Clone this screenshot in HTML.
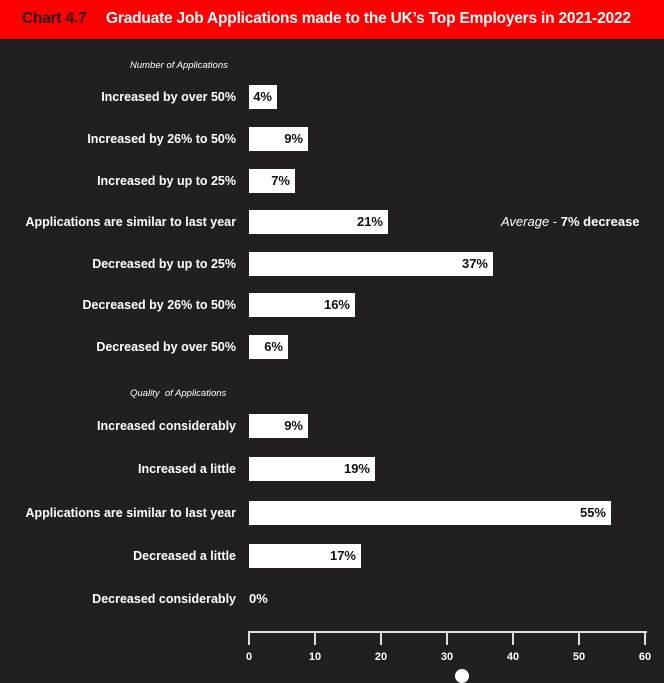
<!DOCTYPE html>
<html><head><style>
body{margin:0;width:664px;height:672px;background:#231f20;position:relative;overflow:hidden;font-family:"Liberation Sans",sans-serif;}
.t{position:absolute;left:0;top:0;width:664px;height:39px;background:#ff0000;}
.t span{position:absolute;top:10px;font-size:15.5px;font-weight:bold;white-space:nowrap;letter-spacing:-0.2px}
.l{position:absolute;right:428px;color:#fff;font-size:12.5px;font-weight:bold;white-space:nowrap;transform:translateY(-50%)}
.b{position:absolute;left:249px;height:24px;background:#fff;transform:translateY(-50%);}
.b span{position:absolute;right:5px;top:4px;font-size:13px;font-weight:bold;color:#111}
.h{position:absolute;font-size:9.5px;font-style:italic;color:#fff;left:130px}
.tk{position:absolute;top:632px;width:2px;height:13px;background:#ddd}
.n{position:absolute;top:651px;color:#fff;font-size:11px;font-weight:bold;transform:translateX(-50%)}
</style></head><body>
<div class="t"><span style="left:22px;color:#231f20">Chart 4.7</span><span style="left:106px;color:#fff">Graduate Job Applications made to the UK’s Top Employers in 2021-2022</span></div>
<div class="h" style="top:60px">Number of Applications</div>
<div class="h" style="top:388px">Quality&nbsp; of Applications</div>

<div class="l" style="top:97px">Increased by over 50%</div><div class="b" style="top:97px;width:28px"><span>4%</span></div>
<div class="l" style="top:139px">Increased by 26% to 50%</div><div class="b" style="top:139px;width:59px"><span>9%</span></div>
<div class="l" style="top:181px">Increased by up to 25%</div><div class="b" style="top:181px;width:46px"><span>7%</span></div>
<div class="l" style="top:222px">Applications are similar to last year</div><div class="b" style="top:222px;width:139px"><span>21%</span></div>
<div class="l" style="top:264px">Decreased by up to 25%</div><div class="b" style="top:264px;width:244px"><span>37%</span></div>
<div class="l" style="top:305px">Decreased by 26% to 50%</div><div class="b" style="top:305px;width:106px"><span>16%</span></div>
<div class="l" style="top:347px">Decreased by over 50%</div><div class="b" style="top:347px;width:39px"><span>6%</span></div>

<div class="l" style="top:426px">Increased considerably</div><div class="b" style="top:426px;width:59px"><span>9%</span></div>
<div class="l" style="top:469px">Increased a little</div><div class="b" style="top:469px;width:126px"><span>19%</span></div>
<div class="l" style="top:513px">Applications are similar to last year</div><div class="b" style="top:513px;width:362px"><span>55%</span></div>
<div class="l" style="top:556px">Decreased a little</div><div class="b" style="top:556px;width:112px"><span>17%</span></div>
<div class="l" style="top:599px">Decreased considerably</div>
<div style="position:absolute;left:249px;top:591px;color:#fff;font-size:13px;font-weight:bold">0%</div>

<div style="position:absolute;left:501px;top:214px;color:#fff;font-size:13px;white-space:nowrap"><i>Average</i> - <b>7% decrease</b></div>

<div style="position:absolute;left:248px;top:631px;width:399px;height:2px;background:#ddd"></div>
<div class="tk" style="left:248px"></div><div class="tk" style="left:314px"></div><div class="tk" style="left:380px"></div><div class="tk" style="left:446px"></div><div class="tk" style="left:512px"></div><div class="tk" style="left:578px"></div><div class="tk" style="left:644px"></div>
<div class="n" style="left:249px">0</div><div class="n" style="left:315px">10</div><div class="n" style="left:381px">20</div><div class="n" style="left:447px">30</div><div class="n" style="left:513px">40</div><div class="n" style="left:579px">50</div><div class="n" style="left:645px">60</div>
<div style="position:absolute;left:455px;top:669px;width:14px;height:14px;border-radius:50%;background:#fff"></div>
</body></html>
